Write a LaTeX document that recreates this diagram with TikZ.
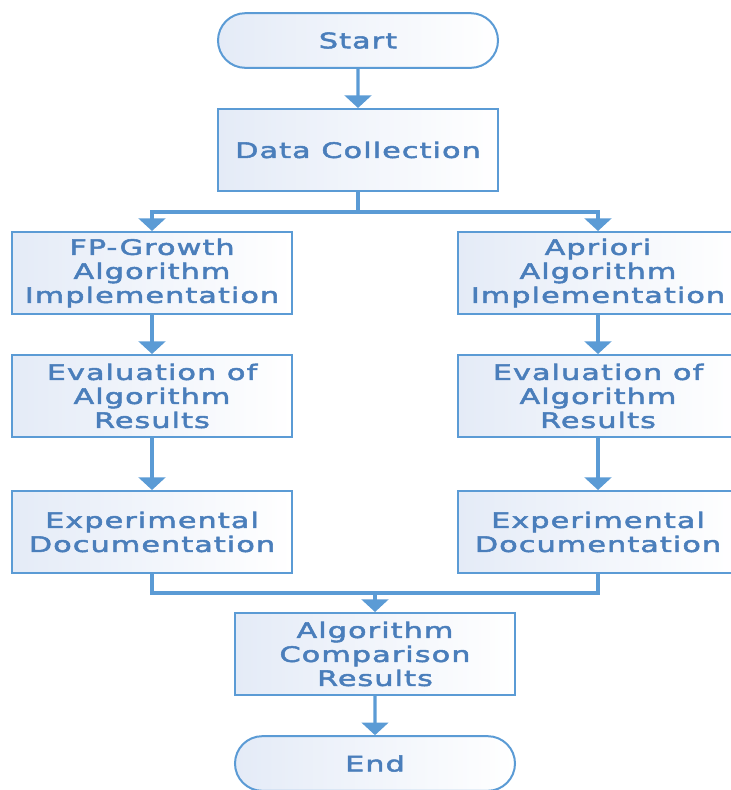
\documentclass[tikz,border=0pt]{standalone}
\usepackage{fontspec}
\newfontfamily\flowfont[FakeStretch=1.42,LetterSpace=5,FakeBold=2.4]{DejaVu Sans}
\usetikzlibrary{arrows.meta,shapes.misc}
\definecolor{flowblue}{RGB}{91,155,213}
\definecolor{textblue}{RGB}{74,126,187}
\definecolor{fillblue}{RGB}{228,235,247}

\begin{document}
\begin{tikzpicture}[x=0.75pt,y=-0.75pt,
  stepbox/.style={draw=flowblue,line width=1.5pt,rectangle,minimum width=210pt,
    minimum height=61.5pt,left color=fillblue,right color=white,text=textblue,
    align=center,inner sep=0pt,font=\flowfont\fontsize{16}{18}\selectfont},
  terminal/.style={stepbox,rounded rectangle,minimum height=41pt},
  link/.style={draw=flowblue,line width=2.4pt},
  flow/.style={link,-{Triangle[width=20pt,length=9.5pt]}}]

\useasboundingbox (0,0) rectangle (731,790);

\node[terminal] (start) at (358,40.5) {Start};
\node[stepbox] (collect) at (358,150) {Data Collection};

\node[stepbox] (fpimpl) at (152,273) {FP-Growth\\Algorithm\\Implementation};
\node[stepbox] (apimpl) at (598,273) {Apriori\\Algorithm\\Implementation};

\node[stepbox] (fpeval) at (152,396) {Evaluation of\\Algorithm\\Results};
\node[stepbox] (apeval) at (598,396) {Evaluation of\\Algorithm\\Results};

\node[stepbox] (fpdoc) at (152,532) {Experimental\\Documentation};
\node[stepbox] (apdoc) at (598,532) {Experimental\\Documentation};

\node[stepbox] (compare) at (375,654) {Algorithm\\Comparison\\Results};
\node[terminal] (finish) at (375,763.5) {End};

\coordinate (fork) at (358,212);
\coordinate (join) at (375,593);

\draw[flow] (start) -- (collect);
\draw[link] (collect) -- (fork);
\draw[flow] (fork) -| (fpimpl);
\draw[flow] (fork) -| (apimpl);

\draw[flow] (fpimpl) -- (fpeval);
\draw[flow] (fpeval) -- (fpdoc);
\draw[flow] (apimpl) -- (apeval);
\draw[flow] (apeval) -- (apdoc);

\draw[link] (fpdoc) |- (join);
\draw[link] (apdoc) |- (join);
\draw[flow] (join) -- (compare);
\draw[flow] (compare) -- (finish);

\end{tikzpicture}
\end{document}
